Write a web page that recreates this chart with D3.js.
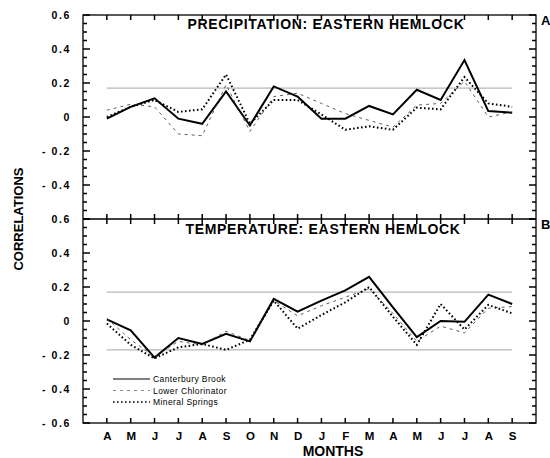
<!DOCTYPE html>
<html>
<head>
<meta charset="utf-8">
<script src="https://cdn.jsdelivr.net/npm/d3@7"></script>
<style>
  body { margin: 0; background: #fff; }
  svg { display: block; font-family: "Liberation Sans", Arial, sans-serif; }
</style>
</head>
<body>
<svg id="chart" width="550" height="458"></svg>
<script>
// months, april of the prior year to september of the growth year
const months = ["A", "M", "J", "J", "A", "S", "O", "N", "D", "J", "F", "M", "A", "M", "J", "J", "A", "S"];

// panel A: precipitation correlations
const precipCanterbury = [-0.01, 0.06, 0.11, -0.01, -0.04, 0.15, -0.05, 0.18, 0.12, -0.01, -0.01, 0.065, 0.015, 0.16, 0.10, 0.335, 0.035, 0.025];
const precipLower = [0.04, 0.075, 0.06, -0.10, -0.11, 0.19, -0.085, 0.12, 0.14, 0.08, 0.02, -0.02, -0.06, 0.07, 0.08, 0.21, 0.0, 0.03];
const precipMineral = [0.0, 0.06, 0.10, 0.03, 0.045, 0.25, -0.04, 0.10, 0.10, 0.015, -0.075, -0.055, -0.075, 0.055, 0.045, 0.235, 0.08, 0.06];

// panel B: temperature correlations
const tempCanterbury = [0.01, -0.055, -0.215, -0.10, -0.135, -0.075, -0.12, 0.13, 0.055, 0.12, 0.18, 0.26, 0.08, -0.095, 0.0, -0.005, 0.155, 0.10];
const tempLower = [0.015, -0.11, -0.21, -0.12, -0.14, -0.06, -0.115, 0.12, 0.03, 0.09, 0.14, 0.19, 0.045, -0.12, -0.03, -0.07, 0.075, 0.085];
const tempMineral = [-0.015, -0.14, -0.22, -0.155, -0.135, -0.17, -0.11, 0.12, -0.045, 0.035, 0.11, 0.20, 0.025, -0.14, 0.10, -0.05, 0.095, 0.045];

// significance levels
const precipLevels = [0.17];
const tempLevels = [0.17, -0.17];

const seriesNames = ["Canterbury Brook", "Lower Chlorinator", "Mineral Springs"];

// line styles per series
const styles = [
  { width: 2, dash: null, colour: "#000" },
  { width: 0.8, dash: "3,4", colour: "#333" },
  { width: 2, dash: "1.6,2.4", colour: "#000" },
];

const svg = d3.select("#chart");
const frameLeft = 83, frameRight = 536, frameTop = 15, frameMid = 219, frameBottom = 423;

const x = d3.scaleLinear().domain([-1, 18]).range([frameLeft, frameRight]);
const yTop = d3.scaleLinear().domain([-0.6, 0.6]).range([frameMid, frameTop]);
const yBottom = d3.scaleLinear().domain([-0.6, 0.6]).range([frameBottom, frameMid]);

// tick steps of 0.05, every fourth one is a major tick
const yTickSteps = d3.range(-12, 13);

function labelFormat(v) {
  if (Math.abs(v) < 1e-9) return "0";
  return (v < 0 ? "- " : "") + Math.abs(v).toFixed(1);
}

const lineGenerator = (y) =>
  d3
    .line()
    .x((d, i) => x(i))
    .y((d) => y(d));

function drawPanel(y, series, levels, labelValues, title, letter, titleY, titleX) {
  // significance lines
  svg
    .append("g")
    .selectAll("line")
    .data(levels)
    .join("line")
    .attr("x1", x(0))
    .attr("x2", x(17))
    .attr("y1", (d) => y(d))
    .attr("y2", (d) => y(d))
    .style("stroke", "#666")
    .style("stroke-width", 0.6);

  // inward ticks on left and right frame
  const tickLen = (s) => (s % 4 === 0 ? 7 : 4);
  const ticks = svg.append("g");
  ticks
    .selectAll("line.l")
    .data(yTickSteps)
    .join("line")
    .attr("class", "l")
    .attr("x1", frameLeft)
    .attr("x2", (s) => frameLeft + tickLen(s))
    .attr("y1", (s) => y(s * 0.05))
    .attr("y2", (s) => y(s * 0.05))
    .attr("stroke", "#000")
    .attr("stroke-width", 1.5);
  ticks
    .selectAll("line.r")
    .data(yTickSteps)
    .join("line")
    .attr("class", "r")
    .attr("x1", frameRight)
    .attr("x2", (s) => frameRight - tickLen(s))
    .attr("y1", (s) => y(s * 0.05))
    .attr("y2", (s) => y(s * 0.05))
    .attr("stroke", "#000")
    .attr("stroke-width", 1.5);

  // tick labels
  const labels = svg
    .append("g")
    .attr("transform", `translate(${frameLeft},0)`)
    .call(d3.axisLeft(y).tickValues(labelValues).tickSize(0).tickPadding(12).tickFormat(labelFormat));
  labels.select(".domain").remove();
  labels
    .selectAll("text")
    .style("font-family", '"Liberation Sans", Arial, sans-serif')
    .style("font-size", "10.5px")
    .style("font-weight", "bold")
    .style("letter-spacing", "1.6px")
    .style("fill", "#000");

  // series
  series.forEach((values, k) => {
    svg
      .append("path")
      .datum(values)
      .attr("d", lineGenerator(y))
      .style("fill", "none")
      .style("stroke", styles[k].colour)
      .style("stroke-width", styles[k].width)
      .style("stroke-dasharray", styles[k].dash)
      .style("stroke-linejoin", "miter");
  });

  svg
    .append("text")
    .attr("x", titleX)
    .attr("y", titleY)
    .attr("text-anchor", "middle")
    .style("font-size", "14px")
    .style("font-weight", "bold")
    .style("letter-spacing", "0.7px")
    .text(title);

  svg
    .append("text")
    .attr("x", 541)
    .attr("y", y(0.6) + 10)
    .style("font-size", "13px")
    .style("font-weight", "bold")
    .text(letter);
}

drawPanel(
  yTop,
  [precipCanterbury, precipLower, precipMineral],
  precipLevels,
  [0.6, 0.4, 0.2, 0, -0.2, -0.4],
  "PRECIPITATION: EASTERN HEMLOCK",
  "A",
  29,
  326
);
drawPanel(
  yBottom,
  [tempCanterbury, tempLower, tempMineral],
  tempLevels,
  [0.6, 0.4, 0.2, 0, -0.2, -0.4, -0.6],
  "TEMPERATURE: EASTERN HEMLOCK",
  "B",
  234,
  323
);

// month ticks on the top, middle and bottom frame lines
const monthIdx = d3.range(months.length);
const monthTicks = svg.append("g");
[
  [frameTop, frameTop + 5],
  [frameMid - 5, frameMid + 5],
  [frameBottom - 5, frameBottom],
].forEach((span, n) => {
  monthTicks
    .selectAll(`line.m${n}`)
    .data(monthIdx)
    .join("line")
    .attr("class", `m${n}`)
    .attr("x1", (i) => x(i))
    .attr("x2", (i) => x(i))
    .attr("y1", span[0])
    .attr("y2", span[1])
    .attr("stroke", "#000")
    .attr("stroke-width", 1.5);
});

// month labels
const monthAxis = svg
  .append("g")
  .attr("transform", `translate(0,${frameBottom})`)
  .call(d3.axisBottom(x).tickValues(monthIdx).tickSize(0).tickPadding(9).tickFormat((i) => months[i]));
monthAxis.select(".domain").remove();
monthAxis
  .selectAll("text")
  .style("font-family", '"Liberation Sans", Arial, sans-serif')
  .style("font-size", "11.5px")
  .style("font-weight", "bold")
  .style("fill", "#000");

// frame
svg
  .append("rect")
  .attr("x", frameLeft)
  .attr("y", frameTop)
  .attr("width", frameRight - frameLeft)
  .attr("height", frameBottom - frameTop)
  .style("fill", "none")
  .style("stroke", "#000")
  .style("stroke-width", 1.3);
svg
  .append("line")
  .attr("x1", frameLeft)
  .attr("x2", frameRight)
  .attr("y1", frameMid)
  .attr("y2", frameMid)
  .style("stroke", "#000")
  .style("stroke-width", 1.3);

// axis titles
svg
  .append("text")
  .attr("transform", `translate(23,${(frameTop + frameBottom) / 2}) rotate(-90)`)
  .attr("text-anchor", "middle")
  .style("font-size", "13px")
  .style("font-weight", "bold")
  .text("CORRELATIONS");
svg
  .append("text")
  .attr("x", 333)
  .attr("y", 456)
  .attr("text-anchor", "middle")
  .style("font-size", "14px")
  .style("font-weight", "bold")
  .text("MONTHS");

// legend
const legend = svg.append("g").attr("transform", "translate(113,379)");
seriesNames.forEach((name, k) => {
  const row = legend.append("g").attr("transform", `translate(0,${k * 11.5})`);
  row
    .append("line")
    .attr("x1", 0)
    .attr("x2", 37)
    .style("stroke", styles[k].colour)
    .style("stroke-width", k === 0 ? 1.2 : styles[k].width * 0.7)
    .style("stroke-dasharray", styles[k].dash);
  row
    .append("text")
    .attr("x", 40)
    .attr("y", 3)
    .style("font-size", "8.5px")
    .style("letter-spacing", "0.4px")
    .text(name);
});
</script>
</body>
</html>
